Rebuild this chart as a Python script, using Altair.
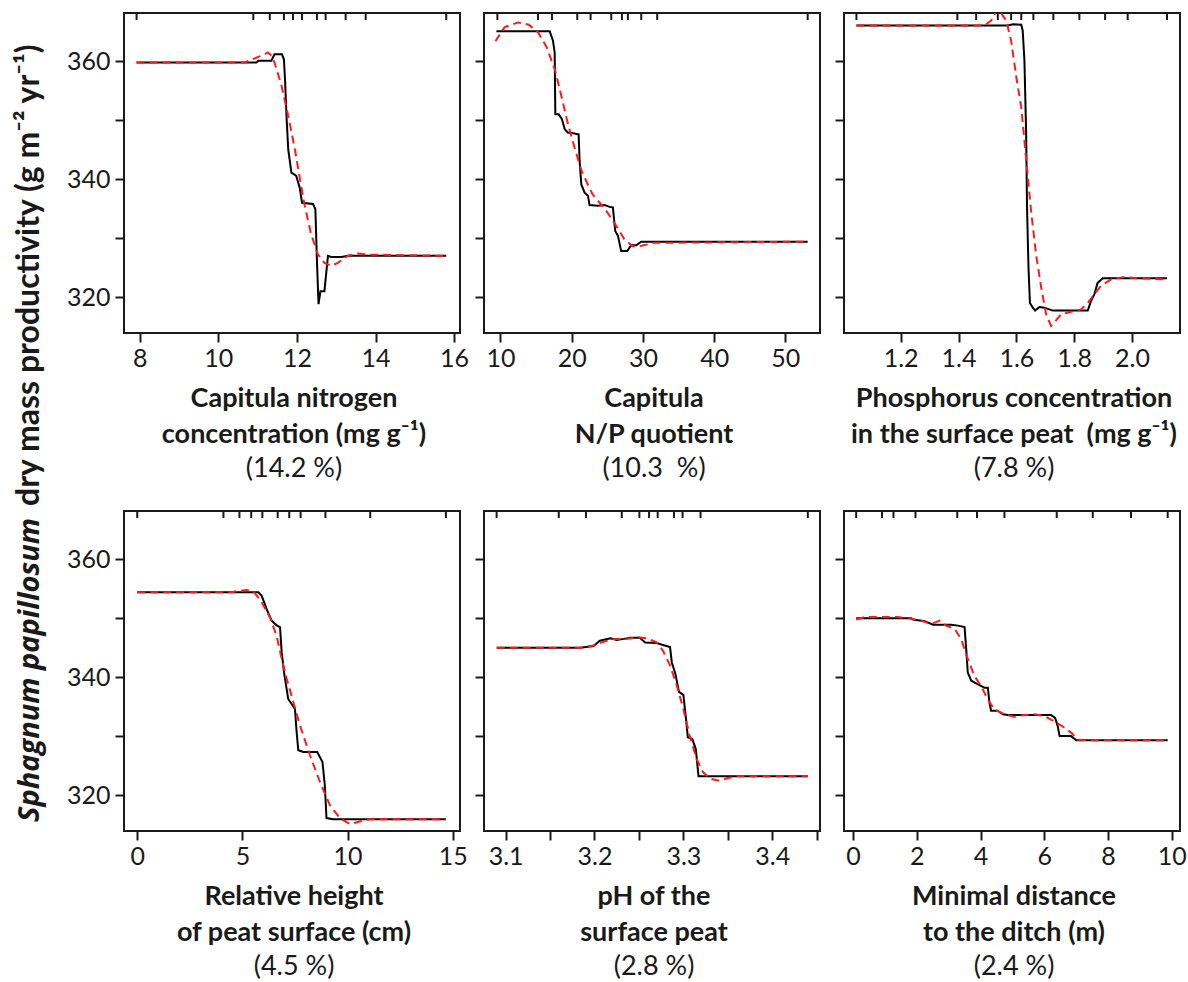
import altair as alt
import pandas as pd

# ---------------- data ----------------
p1_black_x = [7.92, 10.97, 11.02, 11.35, 11.43, 11.62, 11.67, 11.70, 11.74, 11.78, 11.86, 11.98, 12.07, 12.13, 12.41, 12.47, 12.51, 12.55, 12.60, 12.70, 12.79, 12.87, 13.13, 13.30, 15.80]
p1_black_y = [359.8, 359.8, 360.1, 360.1, 361.2, 361.2, 360.3, 356.5, 350.0, 345.0, 341.1, 340.6, 338.6, 336.0, 335.8, 334.9, 326.1, 318.8, 321.0, 321.0, 327.0, 326.8, 326.8, 327.0, 327.0]
p1_red_x = [7.92, 10.67, 11.18, 11.26, 11.35, 11.43, 11.60, 11.77, 11.94, 12.07, 12.19, 12.36, 12.53, 12.70, 12.87, 13.04, 13.30, 13.55, 13.80, 15.80]
p1_red_y = [359.8, 359.8, 361.2, 361.5, 361.0, 359.8, 356.1, 351.0, 345.4, 340.3, 335.8, 330.7, 327.3, 325.8, 325.3, 325.8, 327.0, 327.4, 327.2, 327.0]
p1_rug = [7.92, 10.89, 11.31, 11.67, 11.90, 12.13, 12.51, 12.73, 13.24, 13.75, 15.80]

p2_black_x = [9.44, 16.92, 17.38, 17.62, 17.71, 18.18, 18.64, 19.02, 19.49, 19.86, 20.98, 21.12, 21.36, 21.82, 22.29, 22.52, 23.69, 24.63, 25.33, 25.79, 26.12, 26.50, 26.96, 27.80, 28.36, 29.07, 29.77, 53.13]
p2_black_y = [365.1, 365.1, 363.5, 361.5, 351.0, 351.0, 350.2, 348.5, 347.9, 347.9, 347.6, 343.1, 339.1, 337.7, 337.2, 335.6, 335.5, 335.6, 335.3, 335.2, 331.2, 330.4, 327.8, 327.8, 328.8, 328.8, 329.4, 329.4]
p2_red_x = [9.3, 10.6, 12.5, 14.0, 15.3, 16.5, 17.7, 18.6, 19.5, 20.4, 21.4, 22.9, 24.7, 26.1, 27.4, 28.6, 29.8, 31.6, 53.1]
p2_red_y = [363.4, 365.8, 366.6, 366.2, 364.9, 362.4, 358.4, 353.9, 349.3, 345.4, 341.4, 337.5, 334.9, 332.4, 329.8, 328.6, 328.7, 329.2, 329.4]
p2_rug = [9.58, 15.28, 17.24, 20.79, 22.66, 25.56, 27.06, 27.9, 29.77, 32.01, 53.13]

p3_black_x = [1.047, 1.571, 1.588, 1.617, 1.622, 1.628, 1.634, 1.637, 1.642, 1.647, 1.657, 1.665, 1.680, 1.697, 1.726, 1.847, 1.858, 1.870, 1.881, 1.899, 2.121]
p3_black_y = [366.1, 366.1, 366.3, 366.2, 365.2, 360.1, 347.6, 335.2, 325.0, 319.0, 318.2, 317.7, 318.3, 318.2, 317.7, 317.7, 319.3, 320.5, 322.4, 323.2, 323.2]
p3_red_x = [1.047, 1.49, 1.513, 1.536, 1.565, 1.582, 1.600, 1.617, 1.628, 1.640, 1.651, 1.668, 1.686, 1.703, 1.720, 1.732, 1.755, 1.789, 1.824, 1.847, 1.870, 1.893, 1.927, 1.974, 2.020, 2.121]
p3_red_y = [366.1, 366.1, 366.9, 369.0, 366.9, 363.5, 357.3, 352.2, 346.5, 340.3, 334.6, 327.3, 321.6, 317.1, 315.1, 315.7, 317.1, 317.5, 317.9, 319.0, 320.5, 321.9, 323.0, 323.4, 323.2, 323.0]
p3_rug = [1.047, 1.396, 1.461, 1.536, 1.582, 1.617, 1.659, 1.728, 1.818, 1.907, 1.985, 2.121]

p4_black_x = [0.0, 5.76, 5.92, 6.16, 6.39, 6.63, 6.79, 6.87, 6.98, 7.18, 7.50, 7.58, 7.66, 7.90, 8.56, 8.81, 8.92, 9.00, 9.32, 14.68]
p4_black_y = [354.4, 354.4, 353.8, 351.5, 349.6, 348.8, 348.5, 344.2, 340.8, 336.3, 334.6, 330.7, 327.6, 327.3, 327.3, 325.6, 321.7, 316.1, 315.9, 315.9]
p4_red_x = [0.0, 4.5, 4.74, 5.21, 5.53, 5.84, 6.32, 6.63, 6.87, 7.11, 7.42, 7.74, 8.21, 8.68, 9.16, 9.63, 10.11, 10.58, 11.05, 14.68]
p4_red_y = [354.4, 354.4, 354.6, 354.8, 354.5, 353.2, 350.1, 347.0, 343.1, 339.7, 335.8, 331.8, 326.8, 322.3, 318.3, 316.1, 315.1, 315.5, 315.9, 315.9]
p4_rug = [0.0, 4.1, 4.86, 5.42, 5.95, 6.68, 7.23, 7.77, 8.95, 11.08, 14.68]

p5_black_x = [3.090, 3.184, 3.199, 3.206, 3.218, 3.225, 3.233, 3.240, 3.251, 3.257, 3.270, 3.276, 3.285, 3.287, 3.291, 3.295, 3.300, 3.303, 3.305, 3.310, 3.314, 3.317, 3.440]
p5_black_y = [345.0, 345.0, 345.3, 346.2, 346.6, 346.3, 346.5, 346.7, 346.7, 345.9, 345.8, 345.5, 345.1, 342.5, 340.6, 337.5, 337.0, 332.9, 329.8, 329.5, 327.8, 323.2, 323.2]
p5_red_x = [3.090, 3.184, 3.199, 3.210, 3.221, 3.236, 3.248, 3.259, 3.270, 3.277, 3.285, 3.292, 3.300, 3.307, 3.315, 3.322, 3.330, 3.341, 3.350, 3.360, 3.440]
p5_red_y = [345.0, 345.0, 345.4, 346.0, 346.5, 346.5, 346.8, 346.6, 345.9, 344.5, 342.0, 338.9, 334.6, 330.1, 326.1, 323.9, 322.8, 322.4, 322.9, 323.2, 323.2]
p5_rug = [3.0899, 3.1598, 3.1904, 3.2307, 3.2505, 3.2614, 3.2711, 3.2894, 3.2991, 3.3193, 3.44]

p6_black_x = [0.10, 1.83, 1.88, 2.25, 2.51, 3.08, 3.29, 3.50, 3.55, 3.60, 3.71, 3.92, 4.13, 4.23, 4.28, 4.33, 4.54, 4.70, 4.86, 6.21, 6.34, 6.42, 6.48, 6.84, 7.00, 9.87]
p6_black_y = [350.0, 350.0, 349.8, 349.5, 348.9, 348.9, 348.75, 348.5, 344.8, 340.8, 339.4, 338.8, 338.2, 338.2, 335.7, 334.3, 334.3, 333.7, 333.6, 333.6, 333.1, 331.7, 330.0, 330.0, 329.3, 329.3]
p6_red_x = [0.10, 0.37, 0.89, 1.41, 1.83, 2.14, 2.45, 2.72, 2.92, 3.19, 3.39, 3.60, 3.81, 4.02, 4.23, 4.44, 4.75, 5.07, 5.38, 5.69, 6.01, 6.21, 6.53, 6.84, 7.05, 7.47, 9.87]
p6_red_y = [349.8, 350.2, 350.2, 350.2, 349.9, 349.6, 349.0, 349.6, 348.75, 348.2, 346.5, 343.1, 340.2, 338.5, 336.2, 334.5, 333.7, 333.3, 333.6, 333.7, 333.4, 332.8, 331.8, 330.6, 329.4, 329.3, 329.3]
p6_rug = [0.10, 0.91, 1.27, 1.96, 3.27, 3.89, 4.75, 6.39, 7.52, 8.72, 9.87]

x_domains = [[7.6, 16.15], [7.7, 54.86], [1.004, 2.166], [-0.63, 15.35], [3.0757, 3.4537], [-0.282, 10.256]]
x_ticks = [[8, 10, 12, 14, 16], [10, 20, 30, 40, 50], [1.2, 1.4, 1.6, 1.8, 2.0],
           [0, 5, 10, 15], [3.1, 3.15, 3.2, 3.25, 3.3, 3.35, 3.4, 3.45], [0, 2, 4, 6, 8, 10]]
y_domain = [313.9, 368.2]
y_ticks = [320, 330, 340, 350, 360]

title_line1 = ["Capitula nitrogen", "Capitula", "Phosphorus concentration",
               "Relative height", "pH of the", "Minimal distance"]
title_line2 = ["concentration (mg g\u207b\u00b9)", "N/P quotient", "in the surface peat \u00a0(mg g\u207b\u00b9)",
               "of peat surface (cm)", "surface peat", "to the ditch (m)"]
importance = ["(14.2 %)", "(10.3 \u00a0%)", "(7.8 %)", "(4.5 %)", "(2.8 %)", "(2.4 %)"]

y_title_italic = "Sphagnum papillosum"
y_title_rest = "dry mass productivity (g m\u207b\u00b2 yr\u207b\u00b9)"

# ---------------- styling ----------------
W, H = 336, 320
FONT = "Lato"
INK = "#1a1a1a"

label_exprs = [
    "datum.label",
    "datum.label",
    "format(datum.value, '.1f')",
    "datum.label",
    "abs(datum.value*10 - round(datum.value*10)) < 0.001 ? format(datum.value, '.1f') : ''",
    "datum.label",
]

one_row = alt.Data(values=[{"a": 1}])


def text_layer(txt, x, y, weight="normal", size=27, style="normal", angle=0, align="center", font=FONT):
    return alt.Chart(one_row).mark_text(
        text=txt, font=font, fontSize=size, fontWeight=weight, fontStyle=style,
        angle=angle, align=align, baseline="alphabetic", color=INK,
    ).encode(x=alt.value(x), y=alt.value(y))


def panel(i, bx, by, rx, ry, rug, left):
    xs = alt.Scale(domain=x_domains[i], nice=False, zero=False)
    ys = alt.Scale(domain=y_domain, nice=False, zero=False)
    xaxis = alt.Axis(values=x_ticks[i], title=None, grid=False, domain=False,
                     tickSize=9, tickWidth=2, tickColor=INK, labelFont=FONT,
                     labelFontSize=25, labelColor=INK, labelPadding=4,
                     labelFlush=False, labelOverlap=False, labelExpr=label_exprs[i])
    yaxis = alt.Axis(values=y_ticks, title=None, grid=False, domain=False,
                     tickSize=9, tickWidth=2, tickColor=INK, labelFont=FONT,
                     labelFontSize=25, labelColor=INK, labelPadding=5,
                     labelOverlap=False, labels=left,
                     labelExpr="datum.value % 20 == 0 ? datum.label : ''")
    dfb = pd.DataFrame({"x": bx, "y": by})
    dfr = pd.DataFrame({"x": rx, "y": ry})
    dfg = pd.DataFrame({"x": rug})
    black = alt.Chart(dfb).mark_line(color="black", strokeWidth=2, clip=True).encode(
        x=alt.X("x:Q", scale=xs, axis=xaxis), y=alt.Y("y:Q", scale=ys, axis=yaxis))
    red = alt.Chart(dfr).mark_line(color="#ff1a1a", strokeWidth=2, strokeDash=[8, 5], clip=True).encode(
        x="x:Q", y="y:Q")
    rugs = alt.Chart(dfg).mark_rule(color=INK, strokeWidth=2).encode(
        x="x:Q", y=alt.value(0), y2=alt.value(7))
    cx = W / 2 + 2
    layers = [black, red, rugs,
              text_layer(title_line1[i], cx, H + 74, weight="bold"),
              text_layer(title_line2[i], cx, H + 110, weight="bold"),
              text_layer(importance[i], cx, H + 144)]
    if i == 0:
        layers.append(text_layer(y_title_italic, -85, 505, weight="bold", size=29,
                                 style="italic", angle=270, align="right", font="Open Sans"))
        layers.append(text_layer(y_title_rest, -85, 493, weight="bold", size=32,
                                 angle=270, align="left"))
    return alt.layer(*layers).properties(width=W, height=H)


data = [
    (p1_black_x, p1_black_y, p1_red_x, p1_red_y, p1_rug),
    (p2_black_x, p2_black_y, p2_red_x, p2_red_y, p2_rug),
    (p3_black_x, p3_black_y, p3_red_x, p3_red_y, p3_rug),
    (p4_black_x, p4_black_y, p4_red_x, p4_red_y, p4_rug),
    (p5_black_x, p5_black_y, p5_red_x, p5_red_y, p5_rug),
    (p6_black_x, p6_black_y, p6_red_x, p6_red_y, p6_rug),
]
panels = [panel(i, *d, left=(i % 3 == 0)) for i, d in enumerate(data)]

chart = alt.concat(*panels, columns=3, spacing={"row": 178, "column": 24}, bounds="flush").properties(
    padding={"left": 11, "top": 11, "right": 0, "bottom": 0}, background="white"
).configure_view(stroke=INK, strokeWidth=2)

chart.save("out.html", embed_options={"renderer": "svg", "actions": False})
